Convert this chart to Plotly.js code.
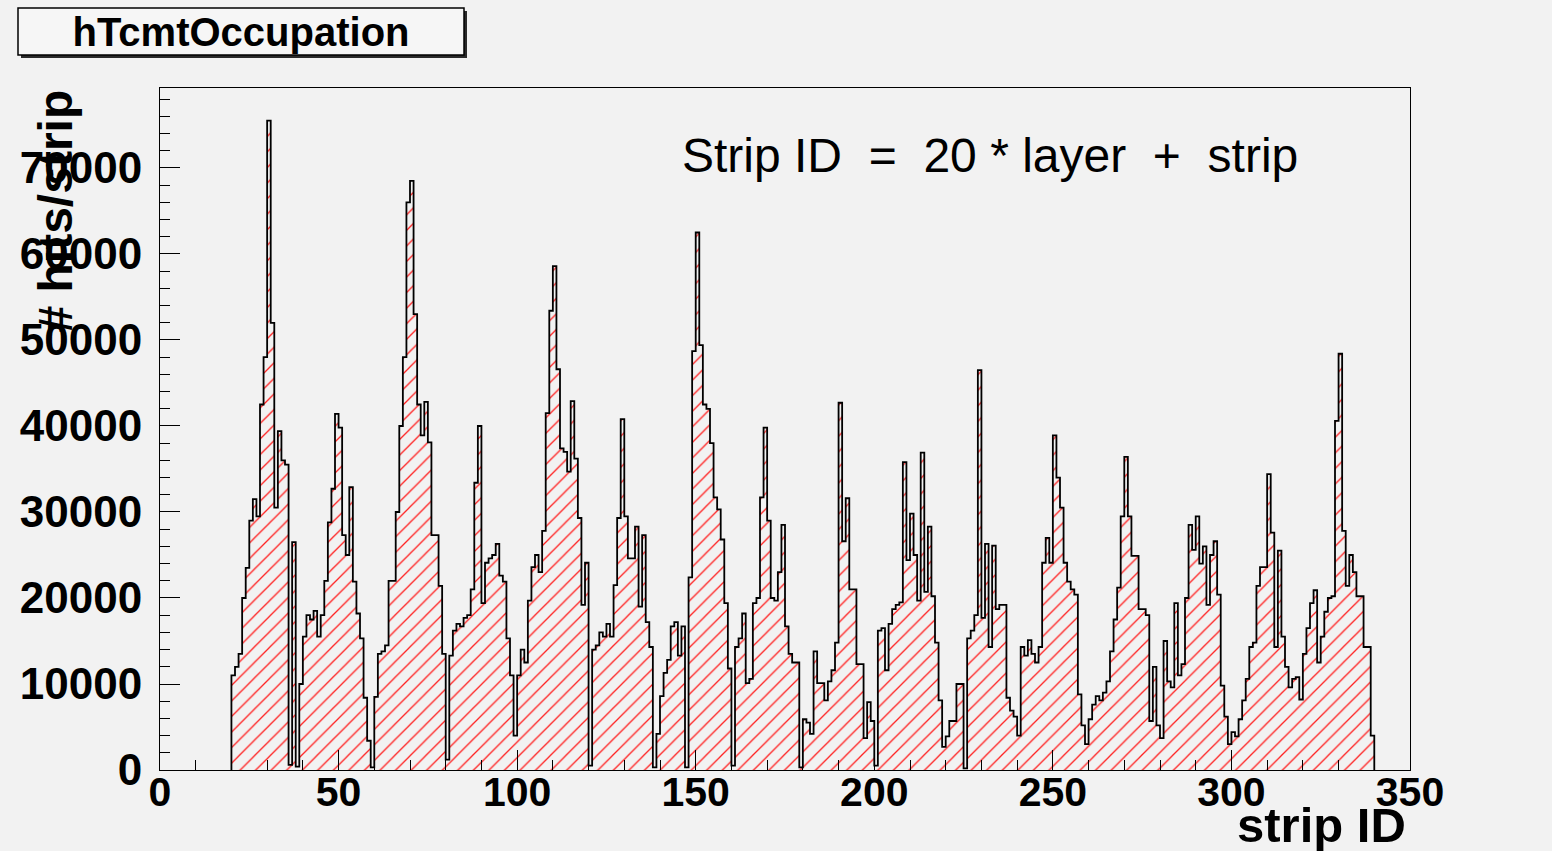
<!DOCTYPE html>
<html><head><meta charset="utf-8">
<script src="https://cdn.plot.ly/plotly-3.0.1.min.js"></script>
<style>html,body{margin:0;padding:0;background:#f2f2f2;}#chart{width:1552px;height:851px;}</style>
</head><body><div id="chart"></div>
<script>
// hits per strip, strip ID = 20*layer + strip; first filled strip ID is 20
const firstStrip = 20;
const layer01 = [11000,12000,13500,20000,23500,29000,31500,29500,42500,48000,75500,52000,30500,39400,36000,35500,600,26500,400,10000];
const layer02 = [15500,18000,17500,18500,15500,18000,22000,28800,32700,41400,39800,27300,25000,32900,21900,18200,15300,8400,3400,300];
const layer03 = [8500,13500,13800,14500,22000,22000,30000,40000,48000,66000,68500,53000,42500,38900,42800,38100,27300,27300,21400,13500];
const layer04 = [1200,13300,16200,17000,16700,17700,18000,21000,33400,40000,19400,24100,24600,25000,26300,22600,21900,15300,11000,4000];
const layer05 = [11000,14000,12500,19700,23600,25000,23000,27800,41500,53400,58600,46600,37400,37000,34700,42900,36200,29300,19200,24100];
const layer06 = [500,14000,14500,16000,15500,17000,15500,21500,29300,40800,29500,24600,24600,28300,19000,27300,17200,14300,300,4200];
const layer07 = [8600,11300,12800,16700,17200,13300,16700,300,22400,48700,62500,49400,42500,42000,38000,31700,30300,26800,19400,11800];
const layer08 = [500,14300,15300,18200,10100,10600,19400,20000,31700,39800,29000,20000,19700,23000,28500,16700,13500,12500,12500,300];
const layer09 = [5900,5500,4200,13800,10100,10100,8100,10300,11600,14800,42700,26600,31600,21000,21000,12300,12300,3700,7900,5700];
const layer10 = [500,16200,16500,11600,17000,18700,19200,19500,35800,24400,29800,25000,19700,36900,20700,28300,20200,14800,8100,2700];
const layer11 = [3900,5700,5700,10000,10000,200,15300,16200,18000,46500,17700,26300,14300,26100,18700,19200,19200,8400,6900,6200];
const layer12 = [4000,14300,13300,15100,13500,12500,14300,24100,27000,24100,38900,34000,30500,24100,21900,21000,20400,8800,5200,3000];
const layer13 = [5900,7600,8600,8100,9000,10300,13800,17500,21200,29500,36400,29500,24900,24900,18700,18700,18000,5700,12000,5200];
const layer14 = [3700,15000,10300,9600,19400,11000,12300,20000,28500,25600,29500,24000,26000,19200,25000,26600,20400,9800,6200,3000];
const layer15 = [4400,3900,5900,8100,10600,14300,14800,21400,23600,23600,34400,27600,14300,25500,15500,12000,9600,10600,10800,8200];
const layer16 = [13500,16500,19400,20900,12500,15500,18400,20000,20200,40600,48400,27800,21400,25000,23000,20200,20200,14300,14300,4000];

const hits = [].concat(layer01,layer02,layer03,layer04,layer05,layer06,layer07,layer08,
                       layer09,layer10,layer11,layer12,layer13,layer14,layer15,layer16);

// step outline through bin edges
const xs = [firstStrip], ys = [0];
hits.forEach((v, i) => { xs.push(firstStrip + i); ys.push(v); });
xs.push(firstStrip + hits.length); ys.push(0);

const font = "'Liberation Sans', Arial, Helvetica, sans-serif";

const trace = {
  type: 'scatter', mode: 'lines', x: xs, y: ys,
  line: {shape: 'hv', color: '#000', width: 1.8},
  fill: 'tozeroy',
  fillcolor: 'rgba(0,0,0,0)',
  fillpattern: {shape: '/', fgcolor: '#ff2020', bgcolor: 'rgba(0,0,0,0)', size: 11, solidity: 0.12},
  hoverinfo: 'x+y'
};

const W = 1250, H = 682, L = 160, T = 88;
const px = v => (v - L) / W;
const py = v => (T + H - v) / H;

const layout = {
  width: 1552, height: 851,
  paper_bgcolor: '#f2f2f2', plot_bgcolor: '#f2f2f2',
  margin: {l: 160, r: 142, t: 88, b: 81},
  showlegend: false,
  title: {text: 'hTcmtOccupation', x: 241/1552, xanchor: 'center', y: 1 - 32/851, yanchor: 'middle',
          font: {family: font, size: 40, color: '#000', weight: 'bold'}},
  xaxis: {
    range: [0, 350], tick0: 0, dtick: 50, tickformat: 'd',
    ticks: 'inside', ticklen: 20, tickwidth: 1, tickcolor: '#000',
    minor: {dtick: 10, ticks: 'inside', ticklen: 10, tickcolor: '#000', tickwidth: 1, showgrid: false},
    showline: true, linecolor: '#000', linewidth: 1, mirror: true,
    showgrid: false, zeroline: false, ticklabelstandoff: -14,
    tickfont: {family: font, size: 41, color: '#000', weight: 'bold'}
  },
  yaxis: {
    range: [0, 79300], tick0: 0, dtick: 10000, tickformat: 'd',
    ticks: 'inside', ticklen: 20, tickwidth: 1, tickcolor: '#000',
    minor: {dtick: 2000, ticks: 'inside', ticklen: 10, tickcolor: '#000', tickwidth: 1, showgrid: false},
    showline: true, linecolor: '#000', linewidth: 1, mirror: true,
    showgrid: false, zeroline: false, ticklabelstandoff: 8,
    tickfont: {family: font, size: 44, color: '#000', weight: 'bold'}
  },
  shapes: [
    {type: 'rect', xref: 'paper', yref: 'paper', layer: 'below',
     x0: px(21), x1: px(467), y0: py(58), y1: py(11), fillcolor: '#2a2a2a', line: {width: 0}},
    {type: 'rect', xref: 'paper', yref: 'paper', layer: 'below',
     x0: px(18), x1: px(464), y0: py(55), y1: py(8), fillcolor: '#f6f6f6', line: {color: '#000', width: 1.5}}
  ],
  annotations: [
    {text: '# hits/strip', xref: 'paper', yref: 'paper', x: px(55), y: 1, xanchor: 'center', yanchor: 'top',
     textangle: -90, showarrow: false, font: {family: font, size: 48, color: '#000', weight: 'bold'}},
    {text: 'strip ID', xref: 'paper', yref: 'paper', x: px(1408), y: py(825), xanchor: 'right', yanchor: 'middle',
     showarrow: false, font: {family: font, size: 49, color: '#000', weight: 'bold'}},
    {text: 'Strip ID\u00a0 =\u00a0 20 * layer\u00a0 +\u00a0 strip', xref: 'paper', yref: 'paper',
     x: px(990), y: py(155), xanchor: 'center', yanchor: 'middle',
     showarrow: false, font: {family: font, size: 48, color: '#000'}}
  ]
};

Plotly.newPlot('chart', [trace], layout, {displayModeBar: false, staticPlot: true});
</script>
</body></html>
